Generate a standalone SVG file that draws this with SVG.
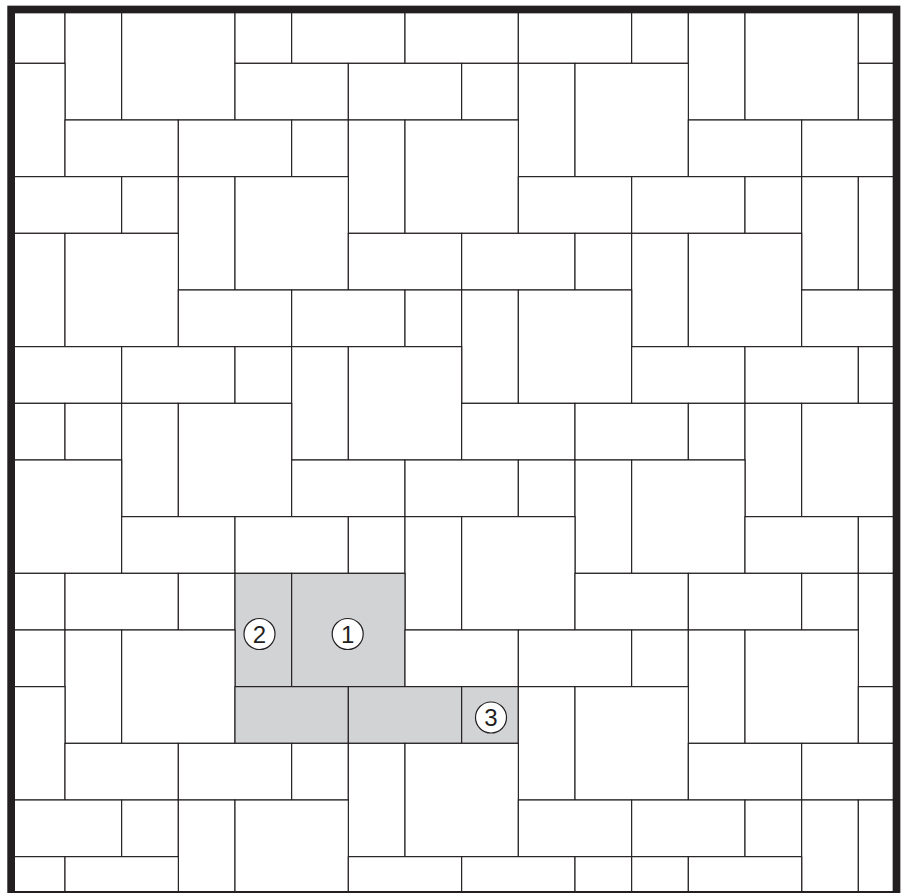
<svg xmlns="http://www.w3.org/2000/svg" width="906" height="893" viewBox="0 0 906 893">
<style>
.t{fill:#ffffff;stroke:#231f20;stroke-width:0.02}
.g{fill:#d1d3d4}
.bd{fill:none;stroke:#231f20;stroke-width:7.7}
.c{fill:#ffffff;stroke:#231f20;stroke-width:1.2}
.n{font-family:"Liberation Sans",Arial,sans-serif;font-size:24px;fill:#231f20;text-anchor:middle}
</style>
<defs>
<clipPath id="clip"><rect x="11" y="9.5" width="886" height="886"/></clipPath>
</defs>
<rect width="906" height="893" fill="#ffffff"/>
<g clip-path="url(#clip)">
<g id="tiles" transform="translate(8.333 6.667) scale(56.667)">
<rect class="t" x="0" y="0" width="1" height="1"/>
<rect class="t" x="1" y="0" width="1" height="2"/>
<rect class="t" x="2" y="0" width="2" height="2"/>
<rect class="t" x="4" y="0" width="1" height="1"/>
<rect class="t" x="5" y="0" width="2" height="1"/>
<rect class="t" x="7" y="0" width="2" height="1"/>
<rect class="t" x="9" y="0" width="2" height="1"/>
<rect class="t" x="11" y="0" width="1" height="1"/>
<rect class="t" x="12" y="0" width="1" height="2"/>
<rect class="t" x="13" y="0" width="2" height="2"/>
<rect class="t" x="15" y="0" width="1" height="1"/>
<rect class="t" x="0" y="1" width="1" height="2"/>
<rect class="t" x="4" y="1" width="2" height="1"/>
<rect class="t" x="6" y="1" width="2" height="1"/>
<rect class="t" x="8" y="1" width="1" height="1"/>
<rect class="t" x="9" y="1" width="1" height="2"/>
<rect class="t" x="10" y="1" width="2" height="2"/>
<rect class="t" x="15" y="1" width="1" height="1"/>
<rect class="t" x="1" y="2" width="2" height="1"/>
<rect class="t" x="3" y="2" width="2" height="1"/>
<rect class="t" x="5" y="2" width="1" height="1"/>
<rect class="t" x="6" y="2" width="1" height="2"/>
<rect class="t" x="7" y="2" width="2" height="2"/>
<rect class="t" x="12" y="2" width="2" height="1"/>
<rect class="t" x="14" y="2" width="2" height="1"/>
<rect class="t" x="0" y="3" width="2" height="1"/>
<rect class="t" x="2" y="3" width="1" height="1"/>
<rect class="t" x="3" y="3" width="1" height="2"/>
<rect class="t" x="4" y="3" width="2" height="2"/>
<rect class="t" x="9" y="3" width="2" height="1"/>
<rect class="t" x="11" y="3" width="2" height="1"/>
<rect class="t" x="13" y="3" width="1" height="1"/>
<rect class="t" x="14" y="3" width="1" height="2"/>
<rect class="t" x="15" y="3" width="1" height="2"/>
<rect class="t" x="0" y="4" width="1" height="2"/>
<rect class="t" x="1" y="4" width="2" height="2"/>
<rect class="t" x="6" y="4" width="2" height="1"/>
<rect class="t" x="8" y="4" width="2" height="1"/>
<rect class="t" x="10" y="4" width="1" height="1"/>
<rect class="t" x="11" y="4" width="1" height="2"/>
<rect class="t" x="12" y="4" width="2" height="2"/>
<rect class="t" x="3" y="5" width="2" height="1"/>
<rect class="t" x="5" y="5" width="2" height="1"/>
<rect class="t" x="7" y="5" width="1" height="1"/>
<rect class="t" x="8" y="5" width="1" height="2"/>
<rect class="t" x="9" y="5" width="2" height="2"/>
<rect class="t" x="14" y="5" width="2" height="1"/>
<rect class="t" x="0" y="6" width="2" height="1"/>
<rect class="t" x="2" y="6" width="2" height="1"/>
<rect class="t" x="4" y="6" width="1" height="1"/>
<rect class="t" x="5" y="6" width="1" height="2"/>
<rect class="t" x="6" y="6" width="2" height="2"/>
<rect class="t" x="11" y="6" width="2" height="1"/>
<rect class="t" x="13" y="6" width="2" height="1"/>
<rect class="t" x="15" y="6" width="1" height="1"/>
<rect class="t" x="0" y="7" width="1" height="1"/>
<rect class="t" x="1" y="7" width="1" height="1"/>
<rect class="t" x="2" y="7" width="1" height="2"/>
<rect class="t" x="3" y="7" width="2" height="2"/>
<rect class="t" x="8" y="7" width="2" height="1"/>
<rect class="t" x="10" y="7" width="2" height="1"/>
<rect class="t" x="12" y="7" width="1" height="1"/>
<rect class="t" x="13" y="7" width="1" height="2"/>
<rect class="t" x="14" y="7" width="2" height="2"/>
<rect class="t" x="0" y="8" width="2" height="2"/>
<rect class="t" x="5" y="8" width="2" height="1"/>
<rect class="t" x="7" y="8" width="2" height="1"/>
<rect class="t" x="9" y="8" width="1" height="1"/>
<rect class="t" x="10" y="8" width="1" height="2"/>
<rect class="t" x="11" y="8" width="2" height="2"/>
<rect class="t" x="2" y="9" width="2" height="1"/>
<rect class="t" x="4" y="9" width="2" height="1"/>
<rect class="t" x="6" y="9" width="1" height="1"/>
<rect class="t" x="7" y="9" width="1" height="2"/>
<rect class="t" x="8" y="9" width="2" height="2"/>
<rect class="t" x="13" y="9" width="2" height="1"/>
<rect class="t" x="15" y="9" width="1" height="1"/>
<rect class="t" x="0" y="10" width="1" height="1"/>
<rect class="t" x="1" y="10" width="2" height="1"/>
<rect class="t" x="3" y="10" width="1" height="1"/>
<rect id="tile-2" class="t g" x="4" y="10" width="1" height="2"/>
<rect id="tile-1" class="t g" x="5" y="10" width="2" height="2"/>
<rect class="t" x="10" y="10" width="2" height="1"/>
<rect class="t" x="12" y="10" width="2" height="1"/>
<rect class="t" x="14" y="10" width="1" height="1"/>
<rect class="t" x="15" y="10" width="1" height="2"/>
<rect class="t" x="0" y="11" width="1" height="1"/>
<rect class="t" x="1" y="11" width="1" height="2"/>
<rect class="t" x="2" y="11" width="2" height="2"/>
<rect class="t" x="7" y="11" width="2" height="1"/>
<rect class="t" x="9" y="11" width="2" height="1"/>
<rect class="t" x="11" y="11" width="1" height="1"/>
<rect class="t" x="12" y="11" width="1" height="2"/>
<rect class="t" x="13" y="11" width="2" height="2"/>
<rect class="t" x="0" y="12" width="1" height="2"/>
<rect class="t g" x="4" y="12" width="2" height="1"/>
<rect class="t g" x="6" y="12" width="2" height="1"/>
<rect id="tile-3" class="t g" x="8" y="12" width="1" height="1"/>
<rect class="t" x="9" y="12" width="1" height="2"/>
<rect class="t" x="10" y="12" width="2" height="2"/>
<rect class="t" x="15" y="12" width="1" height="1"/>
<rect class="t" x="1" y="13" width="2" height="1"/>
<rect class="t" x="3" y="13" width="2" height="1"/>
<rect class="t" x="5" y="13" width="1" height="1"/>
<rect class="t" x="6" y="13" width="1" height="2"/>
<rect class="t" x="7" y="13" width="2" height="2"/>
<rect class="t" x="12" y="13" width="2" height="1"/>
<rect class="t" x="14" y="13" width="2" height="1"/>
<rect class="t" x="0" y="14" width="2" height="1"/>
<rect class="t" x="2" y="14" width="1" height="1"/>
<rect class="t" x="3" y="14" width="1" height="2"/>
<rect class="t" x="4" y="14" width="2" height="2"/>
<rect class="t" x="9" y="14" width="2" height="1"/>
<rect class="t" x="11" y="14" width="2" height="1"/>
<rect class="t" x="13" y="14" width="1" height="1"/>
<rect class="t" x="14" y="14" width="1" height="2"/>
<rect class="t" x="15" y="14" width="1" height="2"/>
<rect class="t" x="0" y="15" width="1" height="1"/>
<rect class="t" x="1" y="15" width="2" height="1"/>
<rect class="t" x="6" y="15" width="2" height="1"/>
<rect class="t" x="8" y="15" width="2" height="1"/>
<rect class="t" x="10" y="15" width="1" height="1"/>
<rect class="t" x="11" y="15" width="1" height="1"/>
<rect class="t" x="12" y="15" width="2" height="1"/>
</g>
</g>
<rect id="border" class="bd" x="11.15" y="9.5" width="885.35" height="885.35"/>
<g id="labels">
<g id="label-2"><circle class="c" cx="259.5" cy="634" r="15.5"/><text class="n" x="259.5" y="642.6">2</text></g>
<g id="label-1"><circle class="c" cx="347.7" cy="634" r="15.5"/><text class="n" x="347.7" y="642.6">1</text></g>
<g id="label-3"><circle class="c" cx="491" cy="717.5" r="15.5"/><text class="n" x="491" y="726.1">3</text></g>
</g>
</svg>
